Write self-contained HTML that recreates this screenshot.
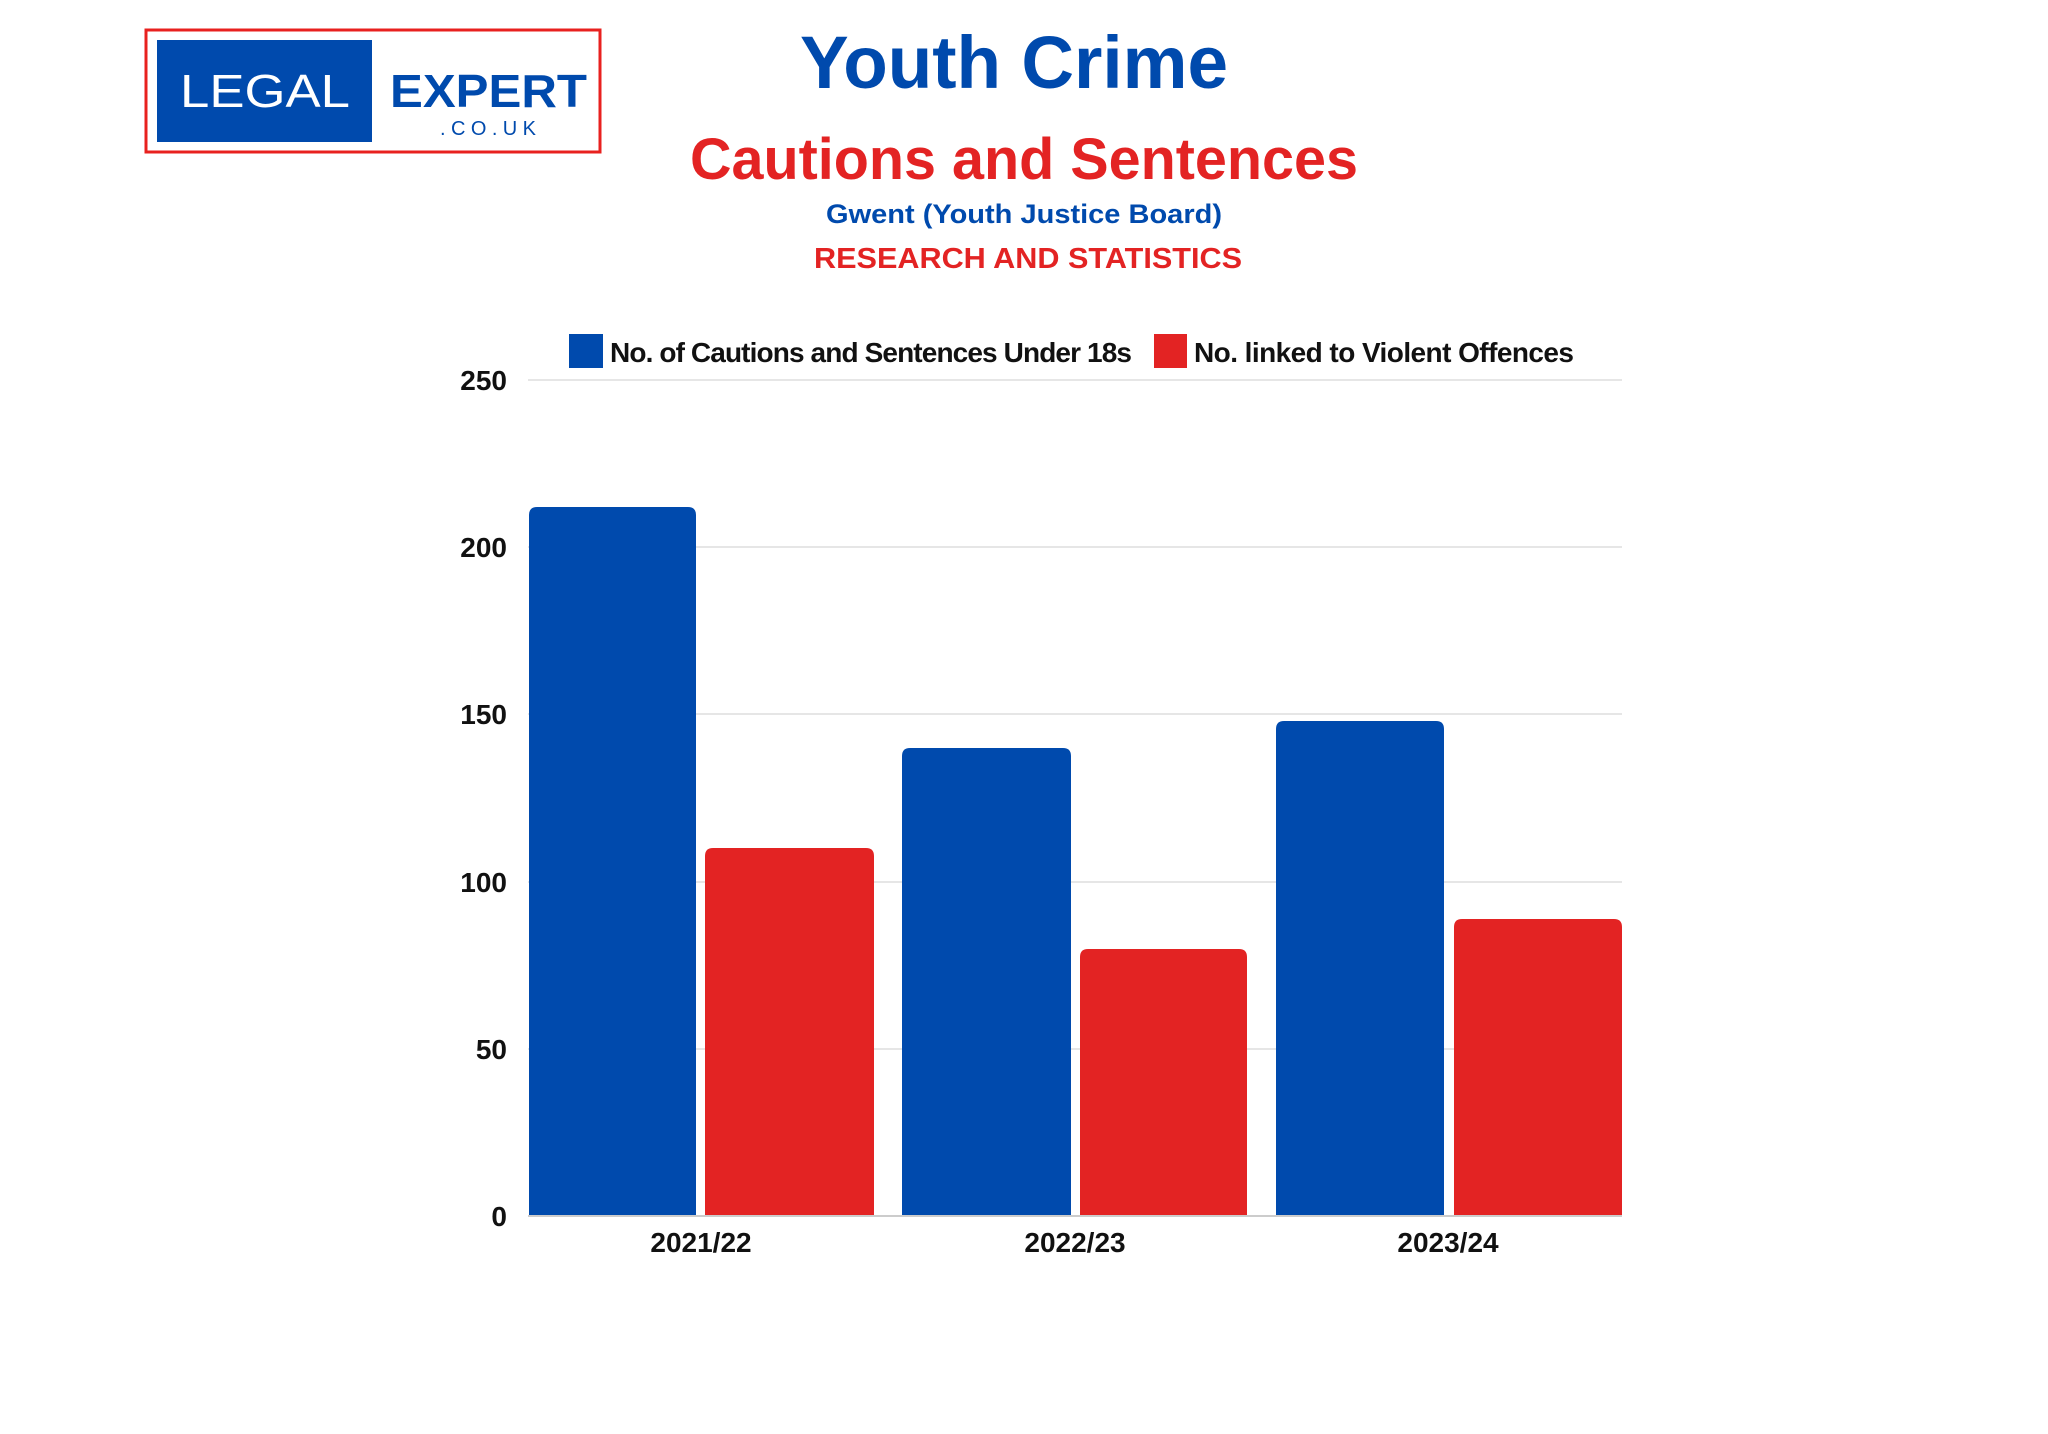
<!DOCTYPE html>
<html><head><meta charset="utf-8"><style>
html,body{margin:0;padding:0;background:#fff;}
svg{display:block;}
</style></head><body>
<svg width="2048" height="1434" viewBox="0 0 2048 1434" xmlns="http://www.w3.org/2000/svg" font-family="Liberation Sans, sans-serif">
<rect width="2048" height="1434" fill="#fff"/>
<rect x="146" y="30" width="454" height="122" fill="#fff" stroke="#e8211f" stroke-width="3"/>
<rect x="157" y="40" width="215" height="102" fill="#004aad"/>
<text x="180" y="107" font-size="46" fill="#fff" textLength="170" lengthAdjust="spacingAndGlyphs">LEGAL</text>
<text x="390" y="107" font-size="46" font-weight="bold" fill="#004aad" textLength="197" lengthAdjust="spacingAndGlyphs">EXPERT</text>
<text x="440" y="135" font-size="20" fill="#004aad" textLength="96">.CO.UK</text>
<text x="800" y="88" font-size="74" font-weight="bold" fill="#004aad" textLength="428" lengthAdjust="spacingAndGlyphs">Youth Crime</text>
<text x="690" y="179" font-size="58" font-weight="bold" fill="#e32323" textLength="668" lengthAdjust="spacingAndGlyphs">Cautions and Sentences</text>
<text x="826" y="223" font-size="27" font-weight="bold" fill="#004aad" textLength="396" lengthAdjust="spacingAndGlyphs">Gwent (Youth Justice Board)</text>
<text x="814" y="268" font-size="29" font-weight="bold" fill="#e32323" textLength="428" lengthAdjust="spacingAndGlyphs">RESEARCH AND STATISTICS</text>
<rect x="569" y="334" width="34" height="34" fill="#004aad"/>
<text x="610" y="362" font-size="28" font-weight="bold" fill="#111" textLength="522">No. of Cautions and Sentences Under 18s</text>
<rect x="1154" y="334" width="33" height="34" fill="#e32323"/>
<text x="1194" y="362" font-size="28" font-weight="bold" fill="#111" textLength="380">No. linked to Violent Offences</text>
<g stroke="#e6e6e6" stroke-width="2">
<line x1="528" y1="380" x2="1622" y2="380"/>
<line x1="528" y1="547" x2="1622" y2="547"/>
<line x1="528" y1="714" x2="1622" y2="714"/>
<line x1="528" y1="882" x2="1622" y2="882"/>
<line x1="528" y1="1049" x2="1622" y2="1049"/>
</g>
<g font-size="28" font-weight="bold" fill="#111" text-anchor="end">
<text x="507" y="390">250</text>
<text x="507" y="557">200</text>
<text x="507" y="724">150</text>
<text x="507" y="892">100</text>
<text x="507" y="1059">50</text>
<text x="507" y="1226">0</text>
</g>
<g>
<path d="M529,1216 V515 Q529,507 537,507 H688 Q696,507 696,515 V1216Z" fill="#004aad"/>
<path d="M705,1216 V856 Q705,848 713,848 H866 Q874,848 874,856 V1216Z" fill="#e32323"/>
<path d="M902,1216 V756 Q902,748 910,748 H1063 Q1071,748 1071,756 V1216Z" fill="#004aad"/>
<path d="M1080,1216 V957 Q1080,949 1088,949 H1239 Q1247,949 1247,957 V1216Z" fill="#e32323"/>
<path d="M1276,1216 V729 Q1276,721 1284,721 H1436 Q1444,721 1444,729 V1216Z" fill="#004aad"/>
<path d="M1454,1216 V927 Q1454,919 1462,919 H1614 Q1622,919 1622,927 V1216Z" fill="#e32323"/>
</g>
<line x1="528" y1="1216" x2="1622" y2="1216" stroke="#ccc" stroke-width="2"/>
<g font-size="28" font-weight="bold" fill="#111" text-anchor="middle">
<text x="701" y="1252">2021/22</text>
<text x="1075" y="1252">2022/23</text>
<text x="1448" y="1252">2023/24</text>
</g>
</svg>
</body></html>
